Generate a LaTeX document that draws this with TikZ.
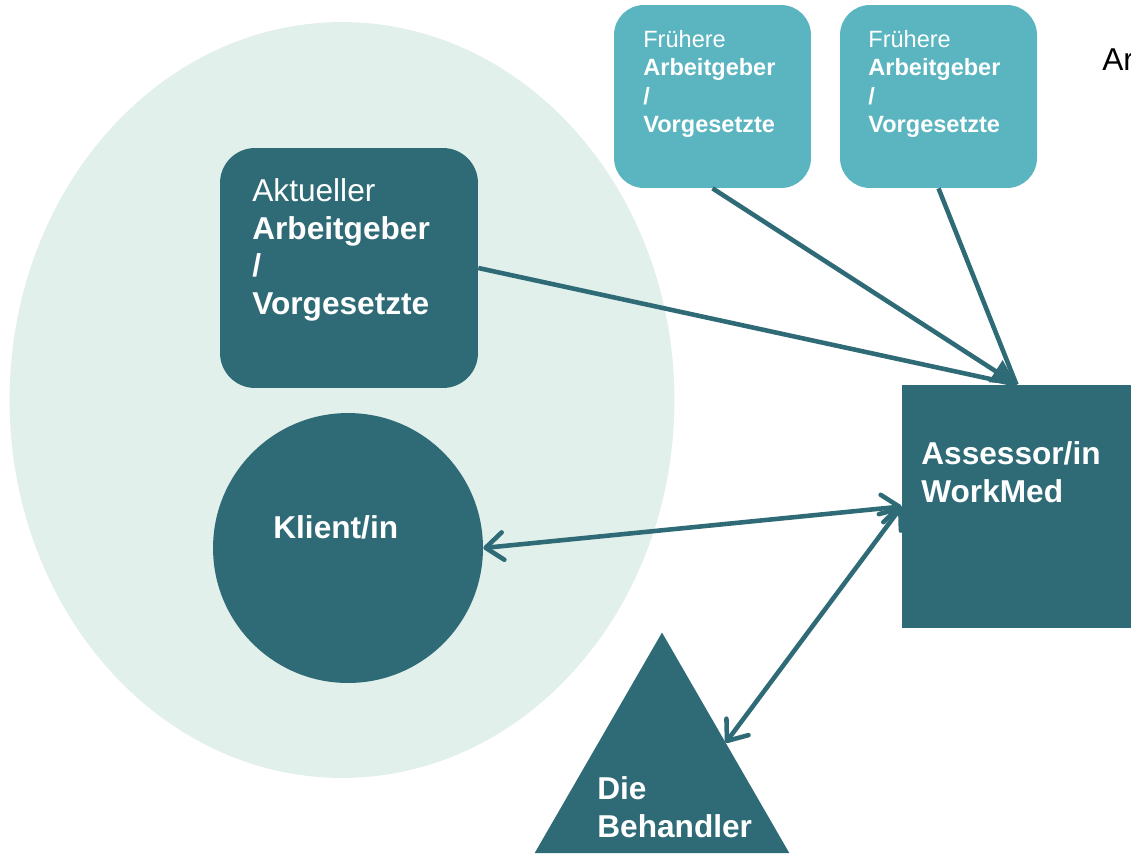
\documentclass[tikz,border=0pt]{standalone}
\usepackage{fontspec}
\setmainfont{Liberation Sans}
\usetikzlibrary{shapes.geometric,arrows.meta}
\definecolor{petrol}{RGB}{47,107,118}
\definecolor{tuerkis}{RGB}{90,181,192}
\definecolor{mint}{RGB}{226,240,236}

\begin{document}
\begin{tikzpicture}[x=0.02cm,y=-0.02cm,
	bigfont/.style={font=\fontsize{18}{21.5}\selectfont},
	smallfont/.style={font=\fontsize{13.4}{16.2}\selectfont},
	txt/.style={anchor=north west,inner sep=0pt,align=left,text=white},
	frueher/.style={fill=tuerkis,rounded corners=0.6cm,minimum width=3.94cm,minimum height=3.66cm,inner sep=0pt},
	verbindung/.style={petrol,line width=2.6pt},
	>={Straight Barb[round,length=3.5mm,width=5.5mm]}]
						\useasboundingbox (0,0) rectangle (1131,853);
						\clip (0,0) rectangle (1131,853);
						\node [ellipse,fill=mint,inner sep=0pt,minimum width=13.3cm,minimum height=15.12cm] (umfeld) at (342,400) {};
						\node [fill=petrol,rounded corners=0.7cm,minimum width=5.16cm,minimum height=4.8cm,inner sep=0pt] (aktuell) at (349,268) {};
						\node [circle,fill=petrol,minimum size=5.4cm,inner sep=0pt] (klient) at (348,548) {};
						\node [frueher] (frueher1) at (712.5,96.5) {};
						\node [frueher] (frueher2) at (938.5,96.5) {};
						\node [fill=petrol,minimum width=4.58cm,minimum height=4.86cm,inner sep=0pt] (assessor) at (1016.5,506.5) {};
						\node [regular polygon,regular polygon sides=3,fill=petrol,minimum size=5.88cm,inner sep=0pt,outer sep=0pt] (behandler) at (662,779.5) {};
						\draw [verbindung] (aktuell.east) -- (assessor.north);
						\draw [verbindung] (frueher2.south) -- (assessor.north);
						\draw [verbindung,-{Triangle[length=5mm,width=5mm]}] (frueher1.south) -- (assessor.north);
						\draw [verbindung,<->] (klient.east) -- (assessor.west);
						\draw [verbindung,<->] (behandler.side 3) -- (assessor.west);
						\node [txt,bigfont] (aktuell-txt) at (252,178) {Aktueller\\\textbf{Arbeitgeber}\\\textbf{/}\\\textbf{Vorgesetzte}};
						\node [txt,bigfont,anchor=base west] (klient-txt) at (273,538) {\textbf{Klient/in}};
						\node [txt,smallfont] (frueher1-txt) at (643,30) {Frühere\\\textbf{Arbeitgeber}\\\textbf{/}\\\textbf{Vorgesetzte}};
						\node [txt,smallfont] (frueher2-txt) at (868,30) {Frühere\\\textbf{Arbeitgeber}\\\textbf{/}\\\textbf{Vorgesetzte}};
						\node [txt,bigfont] (assessor-txt) at (921,441) {\textbf{Assessor/in}\\\textbf{WorkMed}};
						\node [txt,bigfont] (behandler-txt) at (597,776) {\textbf{Die}\\\textbf{Behandler}};
						\node [bigfont,anchor=base west,inner sep=0pt] (ar-txt) at (1102,70) {Ar};
\end{tikzpicture}
\end{document}
